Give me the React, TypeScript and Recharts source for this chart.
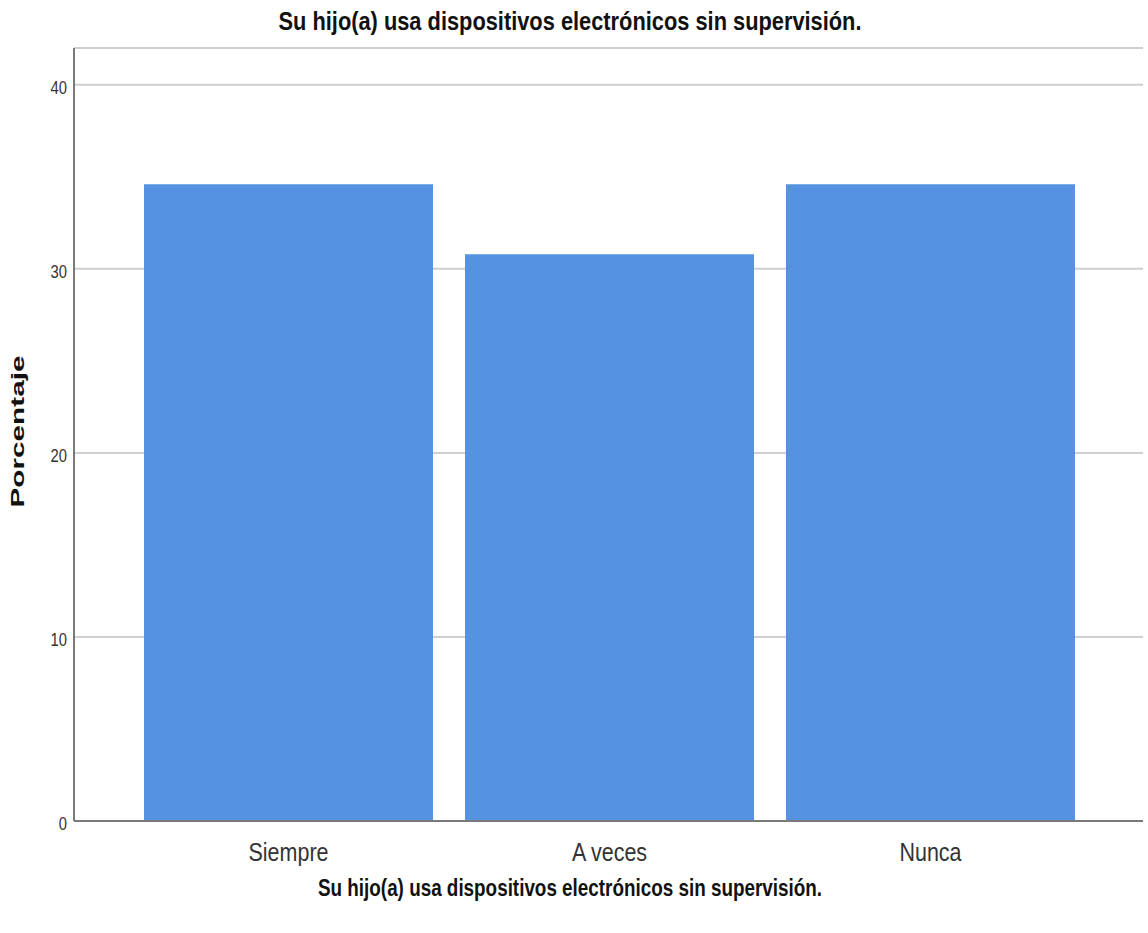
import React from 'react'
import { Bar, BarChart, CartesianGrid, Label, XAxis, YAxis } from 'recharts'

const categories = ['Siempre', 'A veces', 'Nunca']
const porcentajes = [34.6, 30.8, 34.6]
const yTicks = [0, 10, 20, 30, 40]
const titulo = 'Su hijo(a) usa dispositivos electrónicos sin supervisión.'
const ejeY = 'Porcentaje'

const data = categories.map((c, i) => ({ categoria: c, porcentaje: porcentajes[i] }))

const sans = '"Liberation Sans", Arial, sans-serif'

// narrow look: arial glyphs squeezed horizontally
function XTick(props: any) {
  const { x, y, payload } = props
  return (
    <text
      transform={`translate(${x} ${y + 38}) scale(0.86 1)`}
      textAnchor="middle"
      fontFamily={sans}
      fontSize={25}
      fill="#333"
    >
      {payload.value}
    </text>
  )
}

function YTick(props: any) {
  const { x, y, payload } = props
  return (
    <text
      transform={`translate(${x} ${y + 9}) scale(0.78 1)`}
      textAnchor="end"
      fontFamily={sans}
      fontSize={19}
      fill="#333"
    >
      {payload.value}
    </text>
  )
}

function BottomTitle(props: any) {
  const vb = props.viewBox
  return (
    <text
      x={570}
      y={vb.y + 75}
      textAnchor="middle"
      textLength={504}
      lengthAdjust="spacingAndGlyphs"
      fontFamily={sans}
      fontWeight="bold"
      fontSize={23}
      fill="#111"
    >
      {titulo}
    </text>
  )
}

function YTitle(props: any) {
  const vb = props.viewBox
  const cx = 18
  const cy = vb.y + vb.height / 2 - 3
  return (
    <text
      x={cx}
      y={cy}
      transform={`rotate(-90 ${cx} ${cy})`}
      textAnchor="middle"
      dominantBaseline="central"
      textLength={152}
      lengthAdjust="spacingAndGlyphs"
      fontFamily={sans}
      fontWeight="bold"
      fontSize={18}
      fill="#111"
    >
      {ejeY}
    </text>
  )
}

export default function App() {
  return (
    <div style={{ position: 'absolute', left: 0, top: 0, width: 1148, height: 933, background: '#fff' }}>
      <svg width={1148} height={44} style={{ position: 'absolute', left: 0, top: 0 }}>
        <text
          x={570}
          y={30}
          textAnchor="middle"
          textLength={583}
          lengthAdjust="spacingAndGlyphs"
          fontFamily={sans}
          fontWeight="bold"
          fontSize={25}
          fill="#111"
        >
          {titulo}
        </text>
      </svg>
      <BarChart
        width={1148}
        height={933}
        data={data}
        margin={{ top: 48, right: 5, left: 0, bottom: 0 }}
        barCategoryGap={16}
      >
        <CartesianGrid vertical={false} stroke="#cfcfcf" strokeWidth={2} />
        <XAxis
          dataKey="categoria"
          height={112}
          padding={{ left: 54, right: 52 }}
          tickLine={false}
          tickSize={0}
          axisLine={{ stroke: '#7a7a7a', strokeWidth: 2 }}
          tick={<XTick />}
        >
          <Label content={<BottomTitle />} />
        </XAxis>
        <YAxis
          width={74}
          domain={[0, 42]}
          ticks={yTicks}
          tickLine={false}
          tickSize={0}
          tickMargin={7}
          axisLine={{ stroke: '#7a7a7a', strokeWidth: 2 }}
          tick={<YTick />}
        >
          <Label content={<YTitle />} />
        </YAxis>
        <Bar dataKey="porcentaje" fill="#5593e2" isAnimationActive={false} />
      </BarChart>
    </div>
  )
}
